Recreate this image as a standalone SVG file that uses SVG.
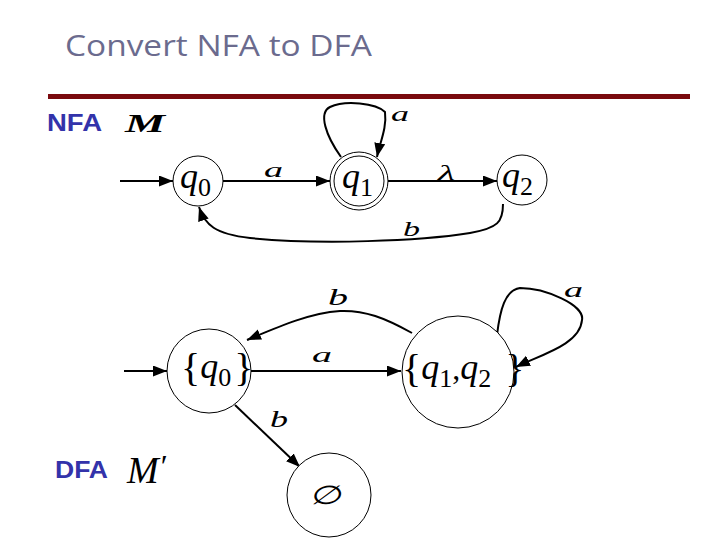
<svg xmlns="http://www.w3.org/2000/svg" width="720" height="540" viewBox="0 0 720 540">
<defs>
<marker id="ah" markerUnits="userSpaceOnUse" markerWidth="15" markerHeight="12" refX="14" refY="5.5" orient="auto">
<path d="M0,0 L14,5.5 L0,11 Z" fill="#000"/>
</marker>
<style>
.st{fill:#fff;stroke:#000;stroke-width:1}
.ed{fill:none;stroke:#000;stroke-width:2;marker-end:url(#ah)}
.m{font-family:"Liberation Serif",serif;font-style:italic;fill:#000}
.sub{font-family:"Liberation Serif",serif;font-style:normal;fill:#000}
.lab{font-family:"Liberation Sans",Arial,sans-serif;font-weight:bold;fill:#3333aa}
</style>
</defs>
<rect width="720" height="540" fill="#fff"/>
<text x="65" y="56" font-family="Open Sans, Liberation Sans, sans-serif" font-size="30" fill="#6b6b8e" textLength="307" lengthAdjust="spacingAndGlyphs">Convert NFA to DFA</text>
<rect x="48" y="94" width="642" height="5" fill="#7a0a0e"/>
<text class="lab" x="47" y="131" font-size="24" textLength="55" lengthAdjust="spacingAndGlyphs">NFA</text>
<text class="m" x="125" y="132" font-size="26" font-weight="bold" textLength="40" lengthAdjust="spacingAndGlyphs">M</text>
<text class="lab" x="55" y="478" font-size="24" textLength="53" lengthAdjust="spacingAndGlyphs">DFA</text>
<text class="m" x="127" y="483" font-size="38">M<tspan class="sub" font-size="32" dx="2" dy="-6">′</tspan></text>
<g id="edges">
<path class="ed" d="M120,181 L173,181"/>
<path class="ed" d="M223,181 L330,181"/>
<path class="ed" d="M388,181 L497,181"/>
<path class="ed" d="M341,157 C326,136 318,113 330,107 C345,100 376,103 385,112 C387,128 380,142 377,157"/>
<path class="ed" d="M503,204 C503,222 498,228 470,233 C420,241 320,245 250,238 C215,234 205,225 199,207"/>
<path class="ed" d="M124,371 L167,371"/>
<path class="ed" d="M251,371 L401,371"/>
<path class="ed" d="M412,333 C385,318 365,310 340,311 C310,313 280,326 247,340"/>
<path class="ed" d="M497,335 C500,310 505,290 520,288 C545,288 585,305 582,320 C580,345 540,355 516,367"/>
<path class="ed" d="M235,405 L300,467"/>
</g>
<g id="edge-labels">
<text class="m" x="264" y="177" font-size="20" textLength="19" lengthAdjust="spacingAndGlyphs">a</text>
<text class="m" x="438" y="180" font-size="22" textLength="17" lengthAdjust="spacingAndGlyphs">λ</text>
<text class="m" x="391" y="121" font-size="20" textLength="18" lengthAdjust="spacingAndGlyphs">a</text>
<text class="m" x="403" y="236" font-size="22" textLength="17" lengthAdjust="spacingAndGlyphs">b</text>
<text class="m" x="312" y="362" font-size="20" textLength="20" lengthAdjust="spacingAndGlyphs">a</text>
<text class="m" x="328" y="305" font-size="24" textLength="20" lengthAdjust="spacingAndGlyphs">b</text>
<text class="m" x="564" y="297" font-size="20" textLength="19" lengthAdjust="spacingAndGlyphs">a</text>
<text class="m" x="270" y="427" font-size="24" textLength="18" lengthAdjust="spacingAndGlyphs">b</text>
</g>
<g id="q0">
<circle class="st" cx="198" cy="181" r="25"/>
<text class="m" x="180" y="188" font-size="36">q<tspan class="sub" font-size="26" dy="8">0</tspan></text>
</g>
<g id="q1">
<circle class="st" cx="359" cy="181" r="29"/>
<circle class="st" cx="359" cy="181" r="25"/>
<text class="m" x="342" y="188" font-size="36">q<tspan class="sub" font-size="26" dy="8">1</tspan></text>
</g>
<g id="q2">
<circle class="st" cx="522" cy="180" r="25"/>
<text class="m" x="502" y="187" font-size="36">q<tspan class="sub" font-size="26" dy="8">2</tspan></text>
</g>
<g id="Dq0">
<circle class="st" cx="209" cy="371" r="42"/>
<text class="sub" x="181" y="381" font-size="40">{<tspan class="m" font-size="36" dy="-3">q</tspan><tspan class="sub" font-size="26" dy="8">0</tspan><tspan font-size="40" dx="3" dy="-5">}</tspan></text>
</g>
<g id="Dq12">
<circle class="st" cx="458" cy="372" r="56"/>
<text class="sub" x="402" y="382" font-size="40">{<tspan class="m" font-size="36" dy="-3">q</tspan><tspan class="sub" font-size="26" dy="8">1</tspan><tspan font-size="32" dy="-8">,</tspan><tspan class="m" font-size="36">q</tspan><tspan class="sub" font-size="26" dy="8">2</tspan><tspan font-size="40" dx="14" dy="-5">}</tspan></text>
</g>
<g id="empty">
<circle class="st" cx="329" cy="495" r="42"/>
<text x="310" y="504" font-family="DejaVu Sans, sans-serif" font-size="26" textLength="32" lengthAdjust="spacingAndGlyphs" transform="skewX(-12) translate(107,0)">∅</text>
</g>
</svg>
